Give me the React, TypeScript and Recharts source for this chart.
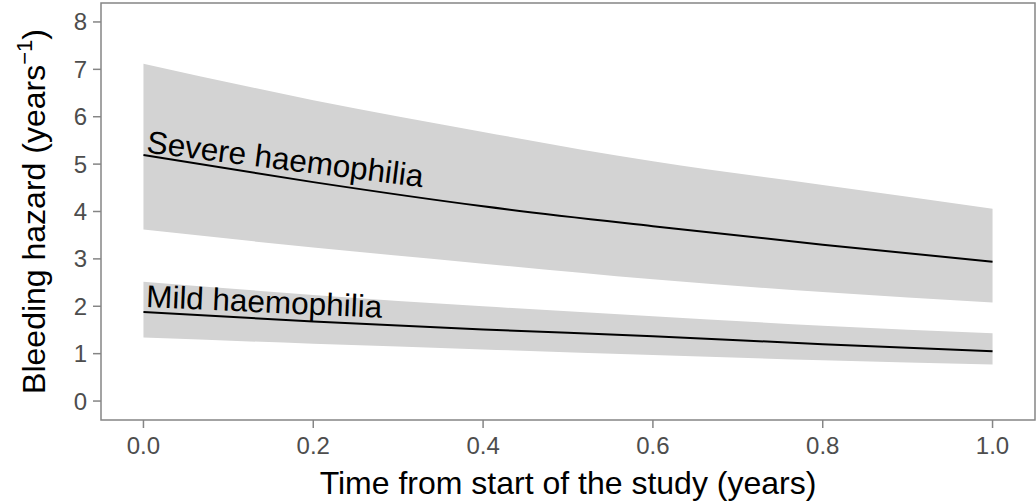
import {
  Area,
  ComposedChart,
  Line,
  ReferenceArea,
  ReferenceDot,
  XAxis,
  YAxis,
} from 'recharts';

// hazard estimates with 95% bands, sampled along the first year
const times = [0, 0.2, 0.4, 0.6, 0.8, 1.0];
const severeHazard = [5.19, 4.62, 4.11, 3.69, 3.3, 2.94];
const severeLower = [3.62, 3.24, 2.9, 2.57, 2.3, 2.08];
const severeUpper = [7.12, 6.35, 5.68, 5.06, 4.56, 4.06];
const mildHazard = [1.88, 1.68, 1.51, 1.37, 1.2, 1.05];
const mildLower = [1.34, 1.21, 1.09, 0.97, 0.86, 0.77];
const mildUpper = [2.52, 2.24, 2.0, 1.79, 1.59, 1.43];

const xTicks = [0, 0.2, 0.4, 0.6, 0.8, 1.0];
const yTicks = [0, 1, 2, 3, 4, 5, 6, 7, 8];

const FONT = 'Liberation Sans, Arial, sans-serif';
const BAND = '#d3d3d3';
const FRAME = '#858585';

const data = times.map((t, i) => ({
  t,
  severe: severeHazard[i],
  severeBand: [severeLower[i], severeUpper[i]],
  mild: mildHazard[i],
  mildBand: [mildLower[i], mildUpper[i]],
}));

const curveLabel = (text: string, angle: number, dy: number) => (props: any) => {
  const { cx, cy } = props;
  return (
    <text
      x={cx + 2}
      y={cy + dy}
      transform={`rotate(${angle}, ${cx}, ${cy})`}
      fontSize={31.5}
      fontFamily={FONT}
      fill="#000"
    >
      {text}
    </text>
  );
};

const YTitle = (props: any) => {
  const vb = props.viewBox;
  const cy = vb.y + vb.height / 2;
  const x = 45;
  return (
    <text
      x={x}
      y={cy}
      transform={`rotate(-90, ${x}, ${cy})`}
      textAnchor="middle"
      fontSize={32}
      fontFamily={FONT}
      fill="#000"
    >
      <tspan>Bleeding hazard (years</tspan>
      <tspan fontSize={22} dy={-13}>−1</tspan>
      <tspan dy={13}>)</tspan>
    </text>
  );
};

export default function App() {
  return (
    <div style={{ position: 'absolute', left: 0, top: 0, background: '#fff' }}>
      <ComposedChart
        width={1036}
        height={501}
        data={data}
        margin={{ top: 3, right: 1, bottom: 0, left: 0 }}
      >
        <XAxis
          type="number"
          dataKey="t"
          domain={[-0.05, 1.05]}
          ticks={xTicks}
          tickFormatter={(v: number) => v.toFixed(1)}
          allowDataOverflow
          height={81}
          axisLine={false}
          tickSize={8}
          tickMargin={9}
          tickLine={{ stroke: FRAME, strokeWidth: 1.5 }}
          tick={{ fill: '#4d4d4d', fontSize: 24, fontFamily: FONT }}
          label={{
            value: 'Time from start of the study (years)',
            position: 'insideBottom',
            offset: 7,
            fill: '#000',
            fontSize: 32,
            fontFamily: FONT,
          }}
        />
        <YAxis
          type="number"
          domain={[-0.4, 8.4]}
          ticks={yTicks}
          allowDataOverflow
          width={101}
          axisLine={false}
          tickSize={8}
          tickMargin={6}
          tickLine={{ stroke: FRAME, strokeWidth: 1.5 }}
          tick={{ fill: '#4d4d4d', fontSize: 24, fontFamily: FONT }}
          label={{ content: YTitle }}
        />
        <Area
          type="monotone"
          dataKey="severeBand"
          fill={BAND}
          fillOpacity={1}
          stroke="none"
          isAnimationActive={false}
        />
        <Area
          type="monotone"
          dataKey="mildBand"
          fill={BAND}
          fillOpacity={1}
          stroke="none"
          isAnimationActive={false}
        />
        <Line
          type="monotone"
          dataKey="severe"
          stroke="#000"
          strokeWidth={2}
          dot={false}
          isAnimationActive={false}
        />
        <Line
          type="monotone"
          dataKey="mild"
          stroke="#000"
          strokeWidth={2}
          dot={false}
          isAnimationActive={false}
        />
        <ReferenceDot
          x={times[0]}
          y={severeHazard[0]}
          r={0}
          shape={curveLabel('Severe haemophilia', 7.2, -3)}
        />
        <ReferenceDot
          x={times[0]}
          y={mildHazard[0]}
          r={0}
          shape={curveLabel('Mild haemophilia', 2.6, -5)}
        />
        <ReferenceArea
          x1={-0.05}
          x2={1.05}
          y1={-0.4}
          y2={8.4}
          fill="none"
          stroke={FRAME}
          strokeWidth={1.5}
          ifOverflow="visible"
        />
      </ComposedChart>
    </div>
  );
}
